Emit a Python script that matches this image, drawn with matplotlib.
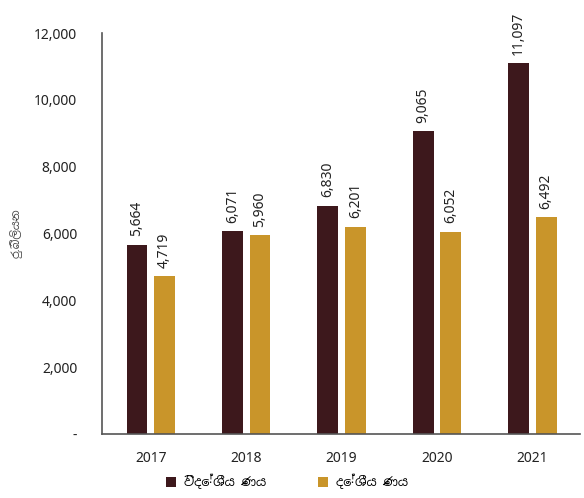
import matplotlib.pyplot as plt
import numpy as np

years = ['2017', '2018', '2019', '2020', '2021']
foreign = [5664, 6071, 6830, 9065, 11097]
domestic = [4719, 5960, 6201, 6052, 6492]
yticks = [0, 2000, 4000, 6000, 8000, 10000, 12000]
ytick_labels = ['-', '2,000', '4,000', '6,000', '8,000', '10,000', '12,000']

plt.rcParams['font.family'] = ['Noto Sans', 'Noto Sans Sinhala', 'DejaVu Sans']

dark = '#3d181c'
gold = '#c9952a'

fig = plt.figure(figsize=(5.84, 4.98), dpi=100)
ax = fig.add_axes([0.175, 0.1285, 0.818, 0.805])

x = np.arange(len(years))
w = 0.22
b1 = ax.bar(x - 0.145, foreign, w, color=dark, label='විදේශීය ණය')
b2 = ax.bar(x + 0.145, domestic, w, color=gold, label='දේශීය ණය')

for bars, vals in ((b1, foreign), (b2, domestic)):
    for r, v in zip(bars, vals):
        ax.text(r.get_x() + r.get_width() / 2, v + 250, f'{v:,}',
                rotation=90, ha='center', va='bottom', fontsize=10, color='#222222')

ax.set_xlim(-0.51, 4.5)
ax.set_ylim(0, 12000)
ax.set_yticks(yticks)
ax.set_yticklabels(ytick_labels)
ax.set_xticks(x)
ax.set_xticklabels(years)
ax.tick_params(axis='both', length=0, labelsize=10, colors='#222222')
ax.tick_params(axis='y', pad=18)
ax.tick_params(axis='x', pad=12)
for s in ('top', 'right'):
    ax.spines[s].set_visible(False)
for s in ('left', 'bottom'):
    ax.spines[s].set_color('#555555')
    ax.spines[s].set_linewidth(1.2)

ax.set_ylabel('රු.බිලියන', fontsize=8, color='#444444', labelpad=8,
              family=['Noto Sans Sinhala', 'DejaVu Sans'])

leg = fig.legend(handles=[b1, b2], loc='lower left', bbox_to_anchor=(0.265, -0.005),
                 ncol=2, frameon=False, handlelength=0.8, handleheight=0.8,
                 columnspacing=4.2, handletextpad=0.6,
                 prop={'family': ['Noto Sans Sinhala', 'DejaVu Sans'], 'size': 9})

fig.savefig('out.png', dpi=100, facecolor='white')
